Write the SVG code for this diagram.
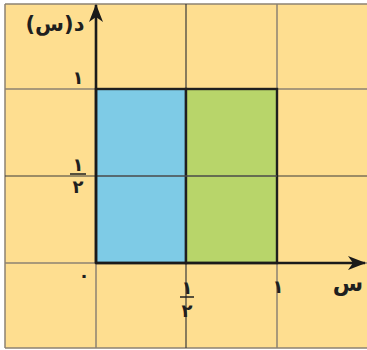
<svg xmlns="http://www.w3.org/2000/svg" width="367" height="350" viewBox="0 0 367 350">
<style>
.grid{stroke:#8c8272;stroke-width:1.5;fill:none}
.dk{stroke:#3a3a3a;stroke-width:1.2;fill:none}
.axis{stroke:#1a1a1a;stroke-width:2.6;fill:none}
.box{stroke:#1f1f1f;stroke-width:2.4}
.t{font-family:"DejaVu Sans",sans-serif;font-weight:bold;fill:#1f1f1f;text-anchor:middle}
</style>
<defs>
<marker id="ah" viewBox="0 0 18 14" refX="17" refY="7" markerWidth="18" markerHeight="14" markerUnits="userSpaceOnUse" orient="auto">
<path d="M0,0 L18,7 L0,14 L5,7 Z" fill="#1a1a1a"/>
</marker>
</defs>
<rect x="0" y="0" width="367" height="350" fill="#ffffff"/>
<rect x="5" y="4" width="362" height="344" fill="#fede90"/>
<g id="grid">
<line class="grid" x1="5" y1="4" x2="367" y2="4"/>
<line class="grid" x1="5" y1="348" x2="367" y2="348"/>
<line class="grid" x1="5" y1="4" x2="5" y2="348"/>
<line class="grid" x1="5" y1="89" x2="367" y2="89"/>
<line class="dk" x1="5" y1="176" x2="367" y2="176"/>
<line class="grid" x1="5" y1="263" x2="367" y2="263"/>
<line class="grid" x1="96" y1="4" x2="96" y2="348"/>
<line class="dk" x1="186" y1="4" x2="186" y2="348"/>
<line class="grid" x1="277" y1="4" x2="277" y2="348"/>
</g>
<g id="blue-rect"><rect class="box" x="96" y="89" width="90" height="174" fill="#7ecbe6"/></g>
<g id="green-rect"><rect class="box" x="186" y="89" width="91" height="174" fill="#b8d56a"/></g>
<g id="mid-line"><line x1="96" y1="176" x2="277" y2="176" stroke="#4a4a4a" stroke-width="1.6"/></g>
<g id="connectors">
<line class="axis" x1="96" y1="263" x2="96" y2="5" marker-end="url(#ah)"/>
<line class="axis" x1="96" y1="263" x2="365" y2="263" marker-end="url(#ah)"/>
</g>
<g id="labels">
<text class="t" x="55" y="31" font-size="21">د(س)</text>
<text class="t" x="78" y="84" font-size="18">١</text>
<text class="t" x="78" y="171" font-size="18">١</text>
<line x1="70" y1="174" x2="86" y2="174" stroke="#1f1f1f" stroke-width="1.5"/>
<text class="t" x="78" y="193" font-size="18">٢</text>
<text class="t" x="84" y="282" font-size="18">٠</text>
<text class="t" x="187" y="294" font-size="18">١</text>
<line x1="180" y1="297" x2="194" y2="297" stroke="#1f1f1f" stroke-width="1.5"/>
<text class="t" x="187" y="317" font-size="18">٢</text>
<text class="t" x="278" y="293" font-size="18">١</text>
<text class="t" x="348" y="291" font-size="22">س</text>
</g>
</svg>
